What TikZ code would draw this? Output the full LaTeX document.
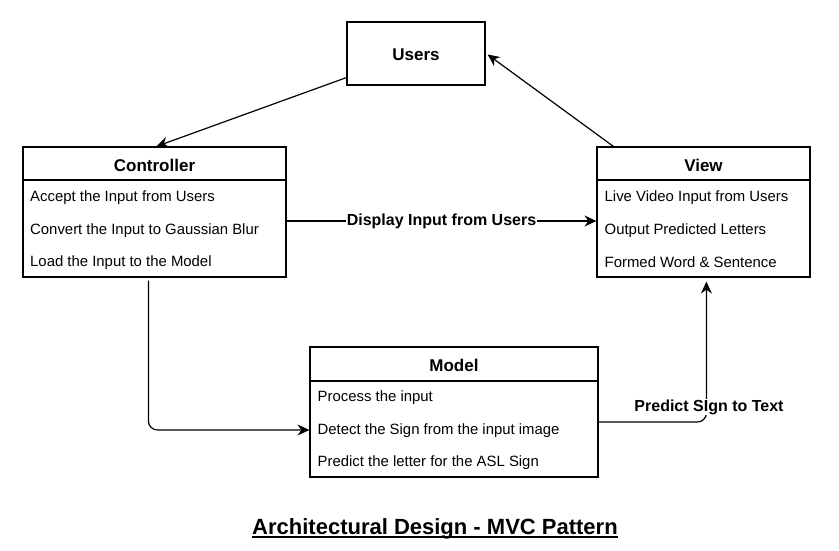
\documentclass[tikz,border=0pt]{standalone}
\usepackage{fontspec}
\setmainfont{Liberation Sans}
\usetikzlibrary{arrows.meta,calc}
\begin{document}
\begin{tikzpicture}[x=1pt,y=-1pt,
  umlbox/.style={draw, line width=1.2pt, rectangle, inner sep=0pt},
  divider/.style={line width=1.2pt},
  hdr/.style={font=\fontsize{17}{20}\selectfont\bfseries, inner sep=0pt},
  rowtext/.style={font=\fontsize{14.9}{17}\selectfont, anchor=west, inner sep=0pt},
  conn/.style={line width=1.2pt, -{Stealth[length=12pt,width=11pt,inset=4pt]}},
  elabel/.style={font=\fontsize{16}{19}\selectfont\bfseries, fill=white, inner sep=1pt}]
\useasboundingbox (0,0) rectangle (839,551);
\fill[white] (0,0) rectangle (839,551);

% Users
\node[umlbox, minimum width=138pt, minimum height=63pt] (users) at (416,53.5) {};
\node[hdr] (usersh) at (416,55) {Users};

% Controller
\node[umlbox, minimum width=263pt, minimum height=130pt] (ctrl) at (154.5,212) {};
\node[hdr] (ctrlh) at (154.5,165) {Controller};
\draw[divider] (ctrl.west |- 0,180) -- (ctrl.east |- 0,180);
\node[rowtext] (ctrl1) at (30,197.5) {Accept the Input from Users};
\node[rowtext] (ctrl2) at (30,230.5) {Convert the Input to Gaussian Blur};
\node[rowtext] (ctrl3) at (30,262.5) {Load the Input to the Model};

% View
\node[umlbox, minimum width=213pt, minimum height=130pt] (view) at (703.5,212) {};
\node[hdr] (viewh) at (703.5,165) {View};
\draw[divider] (view.west |- 0,180) -- (view.east |- 0,180);
\node[rowtext] (view1) at (604.5,197.5) {Live Video Input from Users};
\node[rowtext] (view2) at (604.5,230.5) {Output Predicted Letters};
\node[rowtext] (view3) at (604.5,262.5) {Formed Word \& Sentence};

% Model
\node[umlbox, minimum width=288pt, minimum height=130pt] (model) at (454,412) {};
\node[hdr] (modelh) at (454,365) {Model};
\draw[divider] (model.west |- 0,381) -- (model.east |- 0,381);
\node[rowtext] (model1) at (317.5,397.5) {Process the input};
\node[rowtext] (model2) at (317.5,430.5) {Detect the Sign from the input image};
\node[rowtext] (model3) at (317.5,462.5) {Predict the letter for the ASL Sign};

% Connectors
\draw[conn] ($(users.south west)+(0,-8)$) -- ($(ctrl.north west)+(134,0)$);
\draw[conn] ($(view.north west)+(17,0)$) -- ($(users.east)+(2,1)$);
\draw[conn] ($(ctrl.east)+(0,9)$) -- ($(view.west)+(0,9)$)
  node[elabel, midway] (lbl1) {Display Input from Users};
\coordinate (cdown) at ($(ctrl.south west)+(126,3)$);
\draw[conn, rounded corners=9pt] (cdown) |- ($(model.west)+(0,18)$);
\coordinate (mup) at ($(view.south west)+(110,4)$);
\draw[conn, rounded corners=9pt] ($(model.east)+(0,10)$) -| (mup);
\node[elabel] (lbl2) at (709,407) {Predict SIgn to Text};

% Title
\node[font=\fontsize{22}{26}\selectfont\bfseries, inner sep=0pt, anchor=base] (title) at (435,534) {Architectural Design - MVC Pattern\ };
\draw[line width=1.4pt] ($(title.base west)+(0,3)$) -- ($(title.base east)+(0,3)$);
\end{tikzpicture}
\end{document}
